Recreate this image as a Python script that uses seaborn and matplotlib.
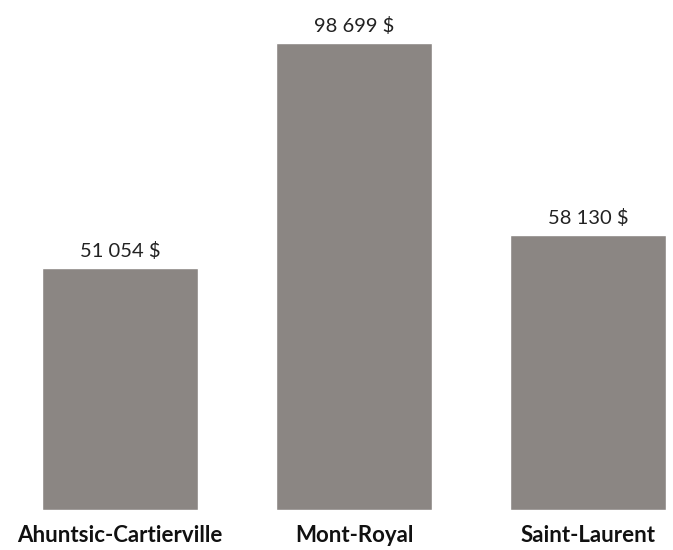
import matplotlib
matplotlib.use("Agg")
import matplotlib.pyplot as plt
import seaborn as sns
import pandas as pd

categories = ["Ahuntsic-Cartierville", "Mont-Royal", "Saint-Laurent"]
values = [51054, 98699, 58130]
value_labels = ["51 054 $", "98 699 $", "58 130 $"]

sns.set_theme(style="white")
plt.rcParams['font.family'] = ['Lato', 'DejaVu Sans']

fig = plt.figure(figsize=(6.73, 5.5), dpi=100)
ax = fig.add_axes([42/673, 40/550, 624/673, 510/550])

df = pd.DataFrame({"cat": categories, "val": values})
sns.barplot(data=df, x="cat", y="val", color="#8B8683", saturation=1, width=0.6667, ax=ax)

ax.set_xlim(-0.3333, 2.3333)
ax.set_ylim(0, 107780)
for c in ax.containers:
    ax.bar_label(c, labels=value_labels, padding=6, fontsize=14.5, color="#222222")

ax.set_xlabel("")
ax.set_ylabel("")
ax.set_yticks([])
ax.tick_params(axis="x", length=0, pad=11)
for lbl in ax.get_xticklabels():
    lbl.set_fontweight("bold")
    lbl.set_fontsize(16)
    lbl.set_color("#111111")
for s in ax.spines.values():
    s.set_visible(False)

fig.savefig("out.png", dpi=100)
